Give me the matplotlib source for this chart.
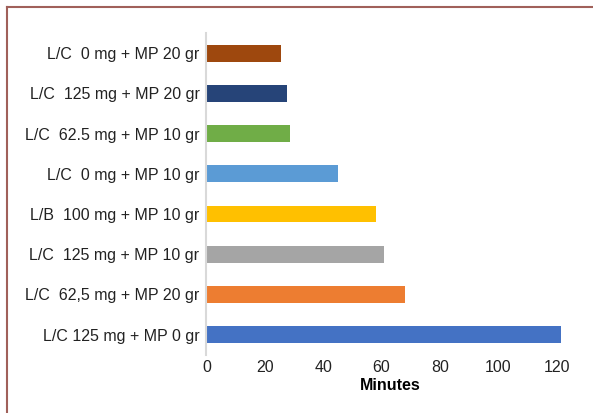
import matplotlib.pyplot as plt
from matplotlib.lines import Line2D

# 数据（从下到上）
labels = ["L/C 125 mg + MP 0 gr", "L/C  62,5 mg + MP 20 gr", "L/C  125 mg + MP 10 gr",
          "L/B  100 mg + MP 10 gr", "L/C  0 mg + MP 10 gr", "L/C  62.5 mg + MP 10 gr",
          "L/C  125 mg + MP 20 gr", "L/C  0 mg + MP 20 gr"]
minutes = [121.5, 68, 61, 58, 45, 28.5, 27.5, 25.5]
colors = ["#4472c4", "#ed7d31", "#a5a5a5", "#ffc000", "#5b9bd5", "#70ad47", "#264478", "#9e480e"]
xticks = [0, 20, 40, 60, 80, 100, 120]

plt.rcParams['font.family'] = ['Liberation Sans', 'DejaVu Sans']

fig = plt.figure(figsize=(5.93, 4.13), dpi=100)
ax = fig.add_axes([0.348, 0.1414, 0.62, 0.7782])

ax.barh(range(len(labels)), minutes, height=0.42, color=colors)
ax.set_yticks(range(len(labels)))
ax.set_yticklabels(labels, fontsize=11.5, color="#222222")
ax.set_xticks(xticks)
ax.set_xticklabels([str(t) for t in xticks], fontsize=11.5, color="#222222")
ax.set_xlim(0, 126)
ax.set_ylim(-0.5, len(labels) - 0.5)
ax.tick_params(length=0, axis='y', pad=5)
ax.tick_params(length=0, axis='x', pad=4)
ax.set_xlabel("Minutes", fontsize=11.5, fontweight='bold', labelpad=2)

for s in ['top', 'right', 'bottom']:
    ax.spines[s].set_visible(False)
ax.spines['left'].set_color('#d9d9d9')
ax.spines['left'].set_linewidth(1.5)

# 外框（只有上边和左边可见）
bc = "#a0605a"
fig.add_artist(Line2D([6.5 / 593, 1], [1 - 6.5 / 413] * 2, color=bc, lw=1.5, transform=fig.transFigure))
fig.add_artist(Line2D([6.5 / 593] * 2, [0, 1 - 6.5 / 413], color=bc, lw=1.5, transform=fig.transFigure))

fig.savefig("out.png", dpi=100)
